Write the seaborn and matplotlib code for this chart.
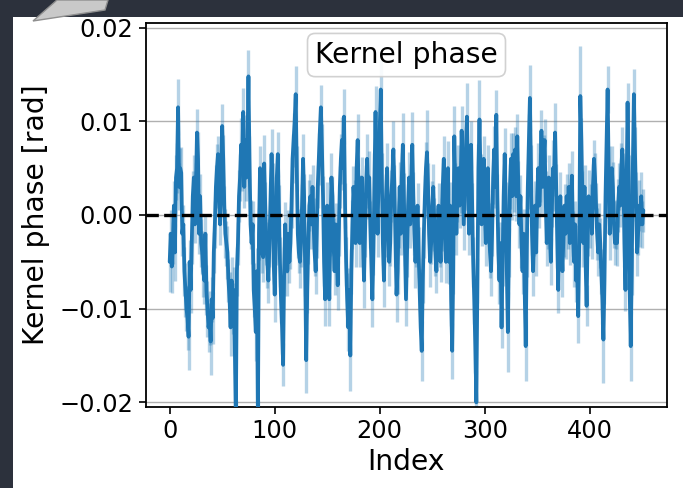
import numpy as np
import pandas as pd
import matplotlib
matplotlib.use("Agg")
import matplotlib.pyplot as plt
import seaborn as sns
from matplotlib.patches import Rectangle, Polygon

# Kernel phase values, in milliradians, index 0..451
kp_0_71 = [-5, -2, -5.5, -3, 1, -4, 4, 5, 11.5, 3, 5, 4.5, -2, -1, -6, -8, -10, -11, -13, -5,
           -8, -3, 2, 4, -1, 3, 8.8, 6, -2, 2, -3, -4, -6, -7, -2, -8, -10, -12, -11, -13.5,
           -9, -11, -4, -1, 3, 5, 6.5, 2, -1, 4, 9.5, 6, 1, -2, -3, -4, -7, -9, -12, -7,
           -10, -8, -14, -22, -6, -3, 2, 4, 7.5, 5, 11, 3]
kp_72_149 = [8, 4, 7, 14.8, 6, -1, -3, -1, -8, -10, -12.5, -6, -22, -2, 5, 2, -4, -4.5, 5.5, 1,
             -3, -5, -7, -3, 2, 6.5, 3, -5, -8.5, -3, 4, 6.5, 1, -5, -9, -12, -16, -6, -1, -4,
             -6, -2, -5, -3, 1, 6, 8, 10, 12.9, 5, -2, -4, -5, -3, 1, 6, 2, -6, -15.5, -8,
             -3, 1, 2, -1, 3, -1, -4, -6, -2, 3, 6, 9, 11.5, 7, 2, -5, -9, -3]
kp_150_223 = [1, -4, -9, -2, 4, 2, -3, -6, -1, -4, -7.5, -2, 3, 6, 8, 5, 10.5, 1, -5, -9,
              -12, -8, -15, -6, -1, 3, 1, -3, 5, 8, 2, -3, 1, 4, -2, -7, -2, 3, 6, 2,
              4, -1, -5, -9, -4, 4, 11, 3, -2, 5, 9, 13.4, 4, -3, -7, -2, 2, 5, -1, -5,
              -3, 2, 4, 7, 3, -3, -8.5, -6, -1, 3, -2, 4, 7.5, 2]
kp_224_301 = [-3, -9, -4, 1, 4, -1, 3, 7.5, 2, -2, -5, -3, 1, -4, -8, -12, -14.5, -7, -2, 2,
              5, 6.7, 3, -2, -5, -3, 1, 3, -1, -4, -6, -2, 1, -3, -5, -1, 3, 6, -2, -5,
              2, 5, -5, 1, -9, -14.5, -6, 8.4, 3, -2, 2, 5, 1, 3, 9, 4, -1, 3, 7, 10.5,
              4, -2, 2, 7.5, 1, -5, -9, -14, -20, -7, 5, 10.2, 4, -1, 3, 6, 1, -3]
kp_302_376 = [1, 5, -1, -4, -6, -2, 4, 7, 3, 10.7, 2, -4, -7, -3, -12, -5, 2, 6.5, 1, -6,
              -12.5, -4, 3, 6, 2, 6.5, 3, 7, 2, 8.4, 3, -1, 2, -3, -6, -2, -8, -14, -4, 3,
              8, 12.5, 5, -2, -6, -2, 1, -4, 2, 5, 1, 4, 9, 3, 6, 8, 2, -3, -1, 4,
              -2, -5, 1, 5, 3, 8.8, 3, -3, -8, -1, 2, -3, -6, -2, 1]
kp_377_451 = [-2, 2, -1, 3, -3, 1, 4.2, -2, -5, -1, -7, -4, -10.8, -3, 12.7, 8, 2, -3, 3, -5,
              -9.7, -2, 2, -1, 1, -2, 3, 6, 4, 1, -2, -4, -1, -3, -6, -9, -13.3, -7, 2, 8,
              13.4, 5, -2, 2, 5, 3, -1, -3, -1, -3, 1, 3, 1, 5, 7, 4, -3, -8, 2, 12,
              4, -8, -14, -6, 5, 12.9, 7, 2, -4, -2, 1, -1, 2, -1, 0.5]

# 1-sigma uncertainties, in milliradians
err_mrad = [
    3.2, 2.5, 2.8, 2.2, 2.6, 3.0, 2.4, 2.7, 3.0, 2.5, 2.2, 2.8, 2.4, 2.1, 2.6, 2.9, 2.4, 3.4, 3.5, 2.3,
    2.5, 2.2, 2.7, 2.4, 2.0, 2.6, 2.5, 2.9, 2.2, 2.4, 2.6, 2.3, 2.8, 2.5, 2.1, 2.7, 3.0, 2.6, 2.9, 3.6,
    2.4, 2.8, 2.2, 2.5, 2.3, 2.6, 1.9, 2.4, 2.2, 2.7, 2.3, 2.5, 2.1, 2.6, 2.4, 2.8, 2.3, 2.9, 3.1, 2.5,
    2.7, 2.4, 3.0, 2.2, 2.6, 2.3, 2.8, 2.5, 2.9, 2.4, 2.6, 2.2, 2.7, 2.5, 2.3, 2.8, 2.4, 2.6, 2.2, 2.5,
    2.9, 2.4, 3.1, 2.5, 2.3, 2.8, 2.4, 2.6, 2.2, 2.7, 3.0, 2.5, 2.3, 2.8, 2.4, 2.6, 2.2, 2.7, 2.5, 2.4,
    2.9, 2.3, 2.6, 2.4, 2.2, 2.7, 2.5, 2.8, 2.3, 2.6, 2.4, 2.2, 2.7, 2.5, 2.3, 2.8, 2.4, 2.6, 2.9, 2.5,
    3.0, 2.4, 2.6, 2.2, 2.8, 2.5, 2.3, 2.7, 2.4, 2.6, 3.5, 2.5, 2.2, 2.7, 2.4, 2.6, 2.3, 2.8, 2.5, 2.4,
    2.6, 2.3, 2.8, 2.5, 2.4, 2.7, 2.2, 2.6, 2.9, 2.4, 2.5, 2.3, 2.8, 2.4, 2.6, 2.2, 2.7, 2.5, 2.3, 2.8,
    2.6, 2.4, 2.2, 2.7, 2.5, 2.3, 2.9, 2.4, 2.6, 2.8, 2.5, 2.3, 3.8, 2.4, 2.6, 2.2, 2.7, 2.5, 2.4, 2.8,
    2.3, 2.6, 2.4, 2.2, 2.7, 2.9, 2.5, 2.3, 2.6, 2.4, 2.8, 2.5, 2.3, 3.0, 2.4, 2.6, 2.8, 2.2, 2.5, 2.7,
    2.4, 3.2, 2.6, 2.3, 2.8, 2.5, 2.4, 2.7, 2.2, 2.6, 2.4, 2.8, 2.5, 3.0, 2.3, 2.6, 2.9, 2.4, 2.5, 2.7,
    2.3, 2.6, 3.4, 2.5, 2.4, 2.9, 2.6, 2.3, 2.7, 2.5, 2.4, 3.5, 2.6, 2.3, 2.8, 2.5, 2.4, 2.7, 2.2, 2.6,
    3.2, 2.4, 2.6, 2.3, 2.8, 4.5, 2.5, 2.4, 2.7, 2.2, 2.6, 2.4, 2.8, 2.5, 2.3, 2.7, 2.4, 2.6, 2.2, 2.8,
    2.5, 2.4, 2.7, 2.3, 2.6, 2.9, 2.4, 2.5, 2.8, 3.0, 2.4, 3.2, 2.6, 2.3, 2.7, 2.5, 2.4, 2.8, 2.6, 2.3,
    2.7, 2.5, 2.4, 3.6, 2.6, 2.3, 2.8, 2.5, 2.4, 2.7, 2.6, 2.9, 3.5, 2.4, 2.6, 4.2, 2.5, 2.3, 2.7, 2.4,
    2.6, 2.4, 2.8, 2.5, 2.3, 2.7, 2.6, 2.4, 2.8, 2.5, 2.3, 2.6, 2.4, 2.7, 2.5, 2.3, 2.2, 2.6, 2.4, 2.8,
    2.5, 2.3, 4.3, 2.6, 2.4, 2.8, 2.5, 2.3, 2.7, 2.4, 2.6, 2.4, 2.8, 2.5, 2.3, 2.7, 2.4, 2.6, 2.5, 3.7,
    2.6, 2.4, 2.8, 3.5, 2.5, 2.3, 2.7, 2.4, 2.6, 2.5, 2.3, 2.7, 2.4, 2.6, 2.2, 2.8, 2.5, 2.3, 2.7, 2.4,
    2.6, 2.4, 2.8, 2.5, 2.3, 3.0, 2.6, 3.2, 2.4, 2.7, 2.5, 2.3, 2.6, 2.4, 2.8, 2.5, 2.3, 2.7, 2.4, 2.6,
    2.5, 2.3, 2.8, 2.6, 2.4, 2.7, 2.5, 2.3, 2.9, 2.9, 2.6, 5.3, 2.4, 2.7, 2.5, 2.3, 2.6, 2.2, 2.4, 2.8,
    2.5, 2.3, 2.7, 2.4, 2.0, 2.6, 2.4, 2.8, 2.5, 2.3, 2.7, 2.4, 2.6, 4.6, 2.5, 2.3, 2.7, 2.5, 2.4, 2.8,
    2.6, 2.4, 2.7, 2.5, 2.3, 2.6, 2.4, 2.8, 2.5, 2.3, 2.7, 2.4, 2.6, 2.5, 2.3, 2.7, 2.1, 2.4, 2.6, 3.7,
    2.5, 2.3, 2.7, 2.4, 2.6, 2.5, 2.3, 2.7, 2.4, 2.6, 2.5, 2.3,
]

kp_mrad = kp_0_71 + kp_72_149 + kp_150_223 + kp_224_301 + kp_302_376 + kp_377_451
assert len(kp_mrad) == len(err_mrad), (len(kp_mrad), len(err_mrad))

index = np.arange(len(kp_mrad))
kp = np.array(kp_mrad) * 1e-3      # mrad -> rad
kp_err = np.array(err_mrad) * 1e-3
df = pd.DataFrame({"Index": index, "kp": kp})

sns.set_style("ticks")
plt.rcParams["font.family"] = ["DejaVu Sans"]
plt.rcParams["text.color"] = "black"
plt.rcParams["axes.labelcolor"] = "black"
plt.rcParams["xtick.color"] = "black"
plt.rcParams["ytick.color"] = "black"

W, H = 683, 488
fig = plt.figure(figsize=(W / 100, H / 100), dpi=100, facecolor="white")

# screenshot frame: dark band on left and top, grey pointer shape
dark = "#2c313c"
fig.patches.append(Rectangle((0, 0), 13 / W, 1, transform=fig.transFigure,
                             facecolor=dark, edgecolor="none", zorder=-5))
fig.patches.append(Rectangle((0, 1 - 17 / H), 1, 17 / H, transform=fig.transFigure,
                             facecolor=dark, edgecolor="none", zorder=-5))
fig.patches.append(Polygon([(33 / W, 1 - 21 / H), (57 / W, 1.0), (108 / W, 1.0), (105 / W, 1 - 10 / H)],
                           closed=True, transform=fig.transFigure,
                           facecolor="#c9c9c9", edgecolor="#8f8f8f", lw=1, zorder=-4))

ax = fig.add_axes([146 / W, 1 - 407 / H, (667 - 146) / W, (407 - 23) / H])

ax.errorbar(index, kp, yerr=kp_err, fmt="none", ecolor="#1f77b4",
            alpha=0.33, elinewidth=2.4, zorder=2)
sns.lineplot(data=df, x="Index", y="kp", ax=ax, color="#1f77b4", lw=2.7, zorder=3)
ax.axhline(0, color="black", ls="--", lw=2.4, zorder=4)

ax.set_ylim(-0.0205, 0.0205)
ax.set_xlim(-0.05 * index[-1], 1.05 * index[-1])
ax.set_yticks([-0.02, -0.01, 0.0, 0.01, 0.02])
ax.set_xticks([0, 100, 200, 300, 400])
ax.yaxis.grid(True, color="#b0b0b0", lw=1.0)
ax.xaxis.grid(False)
ax.set_axisbelow(True)

for s in ax.spines.values():
    s.set_color("black")
    s.set_linewidth(1.3)
ax.tick_params(axis="both", labelsize=17.3, length=5, width=1.2, pad=4, direction="out")

ax.set_xlabel("Index", fontsize=20.3, labelpad=3)
ax.set_ylabel("Kernel phase [rad]", fontsize=20.3, labelpad=7)

ax.text(0.5, 0.953, "Kernel phase", transform=ax.transAxes, ha="center", va="top",
        fontsize=20.3, zorder=6,
        bbox=dict(boxstyle="round,pad=0.27", facecolor="white", edgecolor="#cccccc",
                  alpha=0.9, lw=1.2))

fig.savefig("out.png", dpi=100, facecolor="white")
